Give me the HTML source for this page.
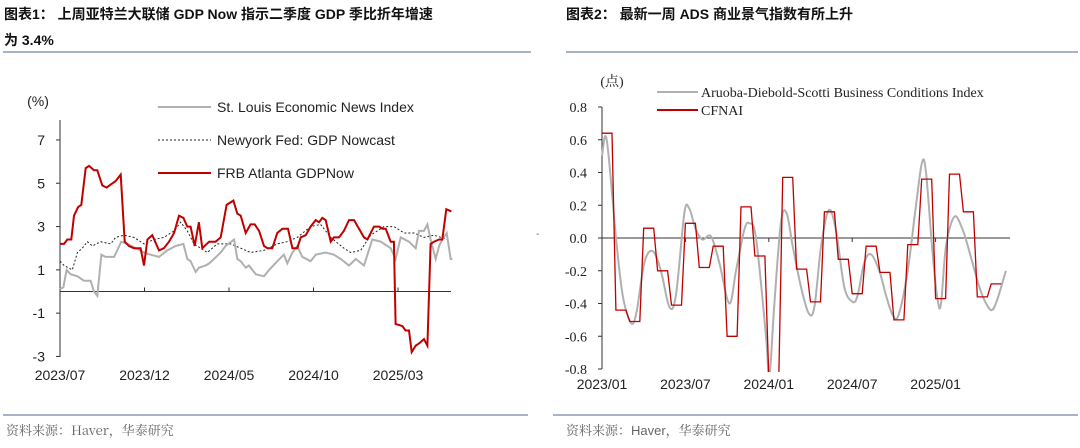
<!DOCTYPE html>
<html><head><meta charset="utf-8"><style>
body{margin:0;width:1080px;height:448px;background:#fff;overflow:hidden;font-family:"Liberation Sans","Noto Sans CJK SC",sans-serif;}
svg{position:absolute;left:0;top:0}
</style></head><body>
<svg id="svg" width="1080" height="448">
<text x="4" y="19" font-size="14" font-weight="bold" fill="#111">图表1：  上周亚特兰大联储 GDP Now 指示二季度 GDP 季比折年增速</text>
<text x="4" y="45" font-size="14" font-weight="bold" fill="#111">为 3.4%</text>
<text x="566" y="19" font-size="14" font-weight="bold" fill="#111">图表2：  最新一周 ADS 商业景气指数有所上升</text>
<line x1="3" y1="52" x2="531" y2="52" stroke="#8a9bb5" stroke-width="1.5"/>
<line x1="566" y1="52" x2="1078" y2="52" stroke="#8a9bb5" stroke-width="1.5"/>
<line x1="3" y1="415" x2="528" y2="415" stroke="#8a9bb5" stroke-width="1.5"/>
<line x1="553" y1="415" x2="1078" y2="415" stroke="#8a9bb5" stroke-width="1.5"/>
<text x="6" y="435" font-size="13" fill="#666" font-family="'Noto Serif CJK SC',serif">资料来源：Haver，华泰研究</text>
<text x="566" y="435" font-size="13" fill="#666" font-family="'Liberation Sans','Noto Serif CJK SC',serif">资料来源：Haver，华泰研究</text>
<g id="c1"></g><g id="c2"></g>
</svg>
<script>
// ---- Chart 1 data (t = months since 2023/07) ----
const c1YTicks=[7,5,3,1,-1,-3];
const c1XLabels=["2023/07","2023/12","2024/05","2024/10","2025/03"];
const redT=[0,.24,.43,.67,.83,1.07,1.26,1.52,1.72,2.01,2.21,2.5,2.76,3.1,3.29,3.59,3.83,4.08,4.38,4.77,4.97,5.17,5.46,5.86,6.15,6.45,6.75,7.04,7.3,7.53,7.73,7.97,8.22,8.42,8.82,9.21,9.51,9.86,10.26,10.49,10.69,10.99,11.28,11.52,11.78,12.07,12.27,12.56,12.86,13.16,13.49,13.75,14.04,14.24,14.54,14.83,15.13,15.33,15.52,15.72,16.02,16.21,16.51,16.8,17.1,17.4,17.69,17.99,18.19,18.58,18.88,19.07,19.27,19.57,19.76,19.86,20.26,20.45,20.65,20.81,21.05,21.24,21.54,21.74,21.93,22.13,22.43,22.62,22.86,23.16];
const redV=[2.2,2.2,2.4,2.4,3.5,3.9,4.0,5.7,5.8,5.6,5.6,4.9,4.8,5.0,5.1,5.4,2.3,2.1,2.0,2.0,1.2,2.4,2.6,1.9,2.0,2.3,2.7,3.5,3.4,3.0,3.0,2.1,3.2,2.0,2.3,2.3,2.5,4.0,4.2,3.6,3.5,2.7,3.1,3.1,2.8,2.1,2.0,2.0,2.7,2.9,2.9,2.0,2.0,2.5,2.6,3.0,3.3,3.2,3.4,3.3,2.3,2.5,2.5,2.8,3.3,3.3,2.9,2.5,2.4,3.0,3.0,2.9,2.9,2.3,2.3,-1.5,-1.6,-1.8,-1.8,-2.8,-2.5,-2.4,-2.2,-2.5,2.2,2.3,2.4,2.4,3.8,3.7];
const grayT=[0,.2,.39,.63,1.03,1.42,1.81,2.01,2.21,2.45,2.7,3.2,3.63,3.98,4.48,4.97,5.36,5.86,6.35,6.84,7.3,7.53,7.73,8.03,8.22,8.62,8.82,9.11,9.51,9.8,10.3,10.49,10.69,10.99,11.18,11.58,12.07,12.37,12.86,13.25,13.45,13.75,14.04,14.34,14.83,15.13,15.72,16.21,16.61,17.1,17.5,17.99,18.48,18.98,19.57,19.86,20.16,20.65,21.05,21.24,21.54,21.74,21.93,22.23,22.43,22.62,22.88,23.12,23.22];
const grayV=[0.1,0.2,1.0,0.8,0.7,0.5,0.5,0.0,-0.2,1.7,1.6,1.6,2.3,2.2,2.0,1.8,1.7,1.6,1.9,2.1,2.2,1.5,1.4,0.9,1.1,1.2,1.3,1.5,1.8,2.1,2.4,1.5,1.4,1.1,1.2,0.8,0.7,1.0,1.4,1.7,1.3,1.8,2.1,1.6,1.4,1.7,1.8,1.7,1.5,1.2,1.5,1.2,2.4,2.3,2.0,1.5,2.5,2.3,2.0,2.8,2.8,3.1,2.4,1.5,2.1,2.4,2.7,1.5,1.5];
const nyT=[0,.24,.73,1.03,1.32,1.62,1.91,2.41,3,3.29,3.79,4.38,4.97,5.56,6.15,6.75,7.14,7.53,7.93,8.72,9.3,10.1,10.69,11.28,12.07,12.86,13.45,14.04,14.83,15.42,16.02,16.8,17.2,17.79,18.38,19.17,19.76,20.36,20.95,21.54,22.13,22.92];
const nyV=[1.4,1.2,1.0,1.8,2.0,2.3,2.1,2.3,2.2,2.5,2.6,2.5,2.2,2.4,2.5,2.8,3.2,2.8,2.2,1.8,2.2,2.2,2.0,1.8,1.9,2.2,2.3,2.5,3.0,3.1,2.5,2.0,1.8,1.9,2.6,3.0,3.0,2.7,2.7,2.5,2.6,2.4];
// ---- Chart 2 data (monthly from 2023/01) ----
const c2YTicks=[0.8,0.6,0.4,0.2,0.0,-0.2,-0.4,-0.6,-0.8];
const c2XLabels=["2023/01","2023/07","2024/01","2024/07","2025/01"];
const cfnaiV=[0.64,-0.44,-0.51,0.06,-0.2,-0.41,0.09,-0.18,-0.05,-0.6,0.19,-0.11,-0.85,0.37,-0.19,-0.39,0.16,-0.13,-0.34,-0.05,-0.21,-0.5,-0.04,0.36,-0.37,0.39,0.16,-0.36,-0.28];
const adsT=[0,.34,1.01,1.49,2.09,2.49,3.05,3.65,4.24,4.84,5.32,5.92,6.28,6.76,7.24,7.84,8.44,9.16,9.64,10.24,10.6,11.08,11.8,12.04,12.4,12.88,13.29,13.72,14.32,14.87,15.28,15.76,16.31,16.83,17.43,18.03,18.39,18.87,19.35,19.95,20.43,20.91,21.34,21.99,22.59,23.02,23.31,23.79,24.15,24.39,24.75,25.35,25.95,26.55,27.15,27.63,28.06,28.46,29.06];
const adsV=[0.5,0.6,0.0,-0.35,-0.52,-0.45,-0.15,-0.08,-0.2,-0.42,-0.35,0.15,0.18,0.05,-0.01,0.01,-0.15,-0.4,-0.2,0.05,0.09,0.0,-0.6,-0.85,-0.4,0.1,0.15,-0.05,-0.3,-0.46,-0.42,-0.05,0.17,0.05,-0.3,-0.39,-0.35,-0.15,-0.1,-0.2,-0.35,-0.47,-0.47,-0.2,0.2,0.46,0.4,-0.1,-0.38,-0.4,-0.05,0.13,0.05,-0.12,-0.3,-0.4,-0.44,-0.37,-0.2];

const NS="http://www.w3.org/2000/svg";
function mk(tag,attrs,parent,txt){const e=document.createElementNS(NS,tag);for(const k in attrs)e.setAttribute(k,attrs[k]);if(txt!==undefined)e.textContent=txt;parent.appendChild(e);return e;}

// Chart 1
const g1=document.getElementById('c1');
const x1=t=>60+t*16.9, y1=v=>291.5-v*21.65;
let e;
e=mk('text',{x:38,y:106,'font-size':14,fill:'#222','text-anchor':'middle'},g1,'(%)');


e=mk('line',{x1:60,y1:120,x2:60,y2:357,stroke:'#333','stroke-width':1},g1);


c1YTicks.forEach(v=>{
  mk('line',{x1:56,y1:y1(v),x2:60,y2:y1(v),stroke:'#333'},g1);
  e=mk('text',{x:45,y:y1(v)+5,'font-size':14,fill:'#222','text-anchor':'end'},g1,String(v).replace('-','-'));
  
  
});
e=mk('line',{x1:60,y1:y1(0),x2:451,y2:y1(0),stroke:'#333','stroke-width':1},g1);


c1XLabels.forEach((l,i)=>{
  const xx=x1(i*5);
  if(i>0)mk('line',{x1:xx,y1:y1(0),x2:xx,y2:y1(0)-4,stroke:'#333'},g1);
  e=mk('text',{x:xx,y:380,'font-size':14,fill:'#222','text-anchor':'middle'},g1,l);
  
  
});
const pts=(T,V,fx,fy)=>T.map((t,i)=>fx(t).toFixed(1)+','+fy(V[i]).toFixed(1)).join(' ');
e=mk('polyline',{points:pts(nyT,nyV,x1,y1),fill:'none',stroke:'#222','stroke-width':1,'stroke-dasharray':'2,2'},g1);


e=mk('polyline',{points:pts(grayT,grayV,x1,y1),fill:'none',stroke:'#b0b0b0','stroke-width':2},g1);


e=mk('polyline',{points:pts(redT,redV,x1,y1),fill:'none',stroke:'#c00000','stroke-width':2},g1);


// legend 1
const lg=[['St. Louis Economic News Index',107,'#b0b0b0',2,''],['Newyork Fed: GDP Nowcast',140,'#222',1,'2,2'],['FRB Atlanta GDPNow',173,'#c00000',2,'']];
lg.forEach(r=>{
  e=mk('line',{x1:158,y1:r[1],x2:211,y2:r[1],stroke:r[2],'stroke-width':r[3],'stroke-dasharray':r[4]},g1);
  
  
  e=mk('text',{x:217,y:r[1]+5,'font-size':14,fill:'#222'},g1,r[0]);
  
  
});
e=mk('text',{x:536,y:237,'font-size':10,fill:'#666'},g1,'-');

// Chart 2
const g2=document.getElementById('c2');
const x2=t=>602+t*13.9, y2=v=>238-v*163.75;
const ser="'Liberation Serif','Noto Serif CJK SC',serif";
e=mk('text',{x:612,y:86,'font-size':14,fill:'#222','text-anchor':'middle','font-family':ser},g2,'(点)');


e=mk('line',{x1:602,y1:y2(0.8),x2:602,y2:y2(-0.8),stroke:'#333'},g2);


c2YTicks.forEach(v=>{
  mk('line',{x1:598,y1:y2(v),x2:602,y2:y2(v),stroke:'#333'},g2);
  e=mk('text',{x:587,y:y2(v)+5,'font-size':14,fill:'#222','text-anchor':'end','font-family':ser},g2,v.toFixed(1));
  
  
});
e=mk('line',{x1:602,y1:y2(0),x2:1010,y2:y2(0),stroke:'#333'},g2);


c2XLabels.forEach((l,i)=>{
  const xx=x2(i*6);
  if(i>0)mk('line',{x1:xx,y1:y2(0),x2:xx,y2:y2(0)+4,stroke:'#333'},g2);
  e=mk('text',{x:xx,y:389,'font-size':14,fill:'#222','text-anchor':'middle'},g2,l);
  
  
});
const cp=mk('clipPath',{id:'cl2'},g2);mk('rect',{x:600,y:90,width:420,height:282},cp);
// ADS smooth
function smooth(P){let d='M'+P[0][0]+','+P[0][1];for(let i=0;i<P.length-1;i++){const p0=P[i-1]||P[i],p1=P[i],p2=P[i+1],p3=P[i+2]||p2;
 d+=' C'+(p1[0]+(p2[0]-p0[0])/6).toFixed(1)+','+(p1[1]+(p2[1]-p0[1])/6).toFixed(1)+' '+(p2[0]-(p3[0]-p1[0])/6).toFixed(1)+','+(p2[1]-(p3[1]-p1[1])/6).toFixed(1)+' '+p2[0].toFixed(1)+','+p2[1].toFixed(1);}return d;}
e=mk('path',{d:smooth(adsT.map((t,i)=>[x2(t),y2(adsV[i])])),fill:'none',stroke:'#b0b0b0','stroke-width':2,'clip-path':'url(#cl2)'},g2);


const cf=[];cfnaiV.forEach((v,i)=>{cf.push(x2(i).toFixed(1)+','+y2(v).toFixed(1));cf.push(x2(i+0.72).toFixed(1)+','+y2(v).toFixed(1));});
e=mk('polyline',{points:cf.join(' '),fill:'none',stroke:'#c00000','stroke-width':1.3,'clip-path':'url(#cl2)'},g2);


const lg2=[['Aruoba-Diebold-Scotti Business Conditions Index',92,'#b0b0b0'],['CFNAI',110,'#c00000']];
lg2.forEach(r=>{
  e=mk('line',{x1:657,y1:r[1],x2:698,y2:r[1],stroke:r[2],'stroke-width':2},g2);
  
  
  e=mk('text',{x:701,y:r[1]+5,'font-size':14,fill:'#222','font-family':ser},g2,r[0]);
  
  
});
</script>
</body></html>
